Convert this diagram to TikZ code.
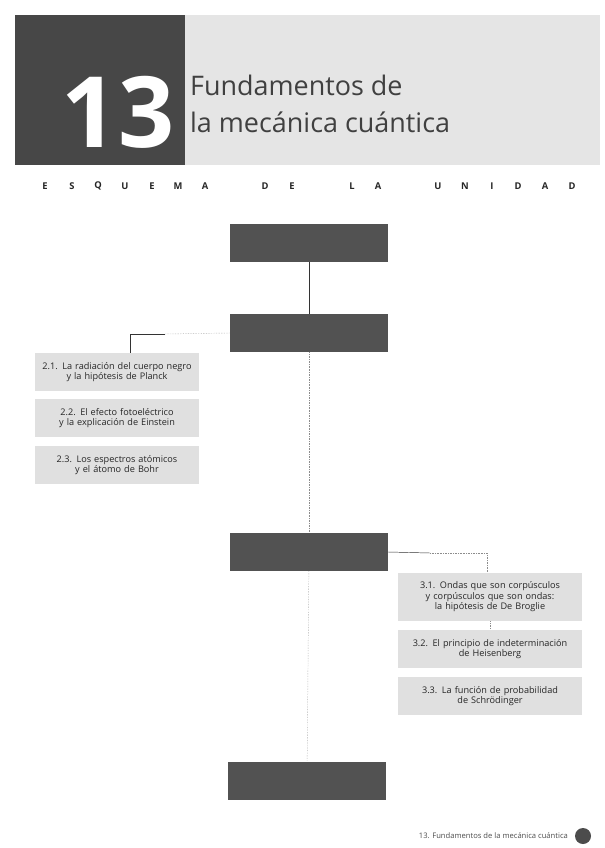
\documentclass[tikz,border=0pt]{standalone}
\usepackage{fontspec}
\setmainfont{Open Sans}
\usepackage{tikz}
\tikzset{
    dark-box/.style = {fill=black!68, minimum width=4.74cm, minimum height=1.15cm},
    item-box/.style = {fill=black!12, text=black!85, font=\fontsize{7.8}{9}\selectfont, align=center, text width=4.8cm, minimum height=1.15cm, inner sep=2pt},
    link/.style = {draw=black!80, thin},
    faint-link/.style = {draw=black!45, densely dotted},
}

\begin{document}
\begin{tikzpicture}[x=0.03cm, y=-0.03cm]
\useasboundingbox (0,0) rectangle (604,848);
% header
\fill[black!10] (185,15) rectangle (600,165);
\fill[black!72] (15,15) rectangle (185,165);
\node[text=white, font=\fontsize{84}{84}\bfseries\selectfont] (num) at (118,112) {13};
\node[anchor=west, align=left, text=black!75, font=\fontsize{23}{31}\selectfont] (title) at (186,104) {Fundamentos de\\la mecánica cuántica};
% esquema de la unidad
\foreach \l/\x in {E/45,S/72,Q/98,U/125,E/152,M/178,A/205,D/265,E/292,L/352,A/378,U/438,N/465,I/492,D/518,A/545,D/572}
    \node[font=\footnotesize\bfseries, text=black!85] at (\x,186) {\l};

% main boxes
\node[dark-box] (b1) at (309,243) {};
\node[dark-box] (b2) at (309,333) {};
\node[dark-box] (b3) at (309,552) {};
\node[dark-box] (b4) at (307,781) {};

% section 2
\node[item-box] (i21) at (117,372) {2.1. La radiación del cuerpo negro\\y la hipótesis de Planck};
\node[item-box] (i22) at (117,418) {2.2. El efecto fotoeléctrico\\y la explicación de Einstein};
\node[item-box] (i23) at (117,465) {2.3. Los espectros atómicos\\y el átomo de Bohr};

% section 3
\node[item-box, text width=5.4cm, minimum height=1.45cm] (i31) at (490,597) {3.1. Ondas que son corpúsculos\\y corpúsculos que son ondas:\\la hipótesis de De Broglie};
\node[item-box, text width=5.4cm] (i32) at (490,649) {3.2. El principio de indeterminación\\de Heisenberg};
\node[item-box, text width=5.4cm] (i33) at (490,696) {3.3. La función de probabilidad\\de Schrödinger};

% connectors
\coordinate (k2) at (130,334);
\coordinate (k2a) at (165,334);
\coordinate (k3) at (487,553);
\coordinate (k3a) at (430,553);
\draw[link] (b1) -- (b2);
\draw[faint-link] (b2) -- (b3);
\draw[faint-link] (b3) -- (b4);
\draw[faint-link] (b2.west) -- (k2a);
\draw[link] (k2a) -- (k2) -- (k2 |- i21.north);
\draw[link] (b3.east) -- (k3a);
\draw[faint-link] (k3a) -- (k3) -- (k3 |- i31.north);
\draw[faint-link] (i31) -- (i32);

% footer
\node[anchor=east, font=\fontsize{6.5}{7}\selectfont, text=black!70] (foot) at (572,836) {13. Fundamentos de la mecánica cuántica};
\fill[black!70] (583,836) circle (8);
\end{tikzpicture}
\end{document}
